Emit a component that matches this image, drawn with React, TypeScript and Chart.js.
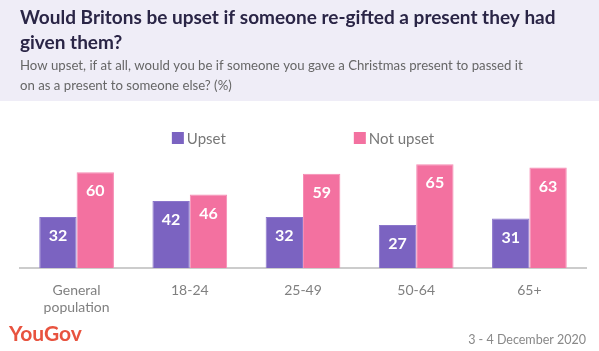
import React, { useEffect, useRef } from "react";
import { Chart, registerables } from "chart.js";

Chart.register(...registerables);

const titleLines = ["Would Britons be upset if someone re-gifted a present they had", "given them?"];
const subtitleLines = [
  "How upset, if at all, would you be if someone you gave a Christmas present to passed it",
  "on as a present to someone else? (%)",
];
const categories: (string | string[])[] = [["General", "population"], "18-24", "25-49", "50-64", "65+"];
const seriesNames = ["Upset", "Not upset"];
const upsetValues = [32, 42, 32, 27, 31];
const notUpsetValues = [60, 46, 59, 65, 63];
const sourceText = "YouGov";
const dateText = "3 - 4 December 2020";

const PURPLE = "#7b63c1";
const PINK = "#f371a0";
const FONT = "Lato, 'Open Sans', sans-serif";

const decorPlugin = {
  id: "decor",
  beforeDraw(chart: any) {
    const { ctx, width } = chart;
    ctx.save();
    ctx.fillStyle = "#efedf7";
    ctx.fillRect(0, 0, width, 101);
    ctx.restore();
  },
  afterDraw(chart: any) {
    const { ctx, chartArea } = chart;
    ctx.save();
    // legend
    ctx.font = `15px ${FONT}`;
    ctx.textBaseline = "middle";
    const ds = chart.data.datasets;
    const gap = 128;
    const box = 12;
    const widths = ds.map((d: any) => box + 3 + ctx.measureText(d.label).width);
    const total = widths.reduce((a: number, b: number) => a + b, 0) + gap * (ds.length - 1);
    let x = (chartArea.left + chartArea.right) / 2 - total / 2;
    const ly = 138;
    ds.forEach((d: any, i: number) => {
      ctx.fillStyle = d.backgroundColor;
      ctx.fillRect(x, ly - box / 2, box, box);
      ctx.fillStyle = "#777777";
      ctx.textAlign = "left";
      ctx.fillText(d.label, x + box + 3, ly + 1);
      x += widths[i] + gap;
    });
    // data labels
    ctx.font = `bold 16px ${FONT}`;
    ctx.fillStyle = "#ffffff";
    ctx.textAlign = "center";
    ds.forEach((d: any, di: number) => {
      const meta = chart.getDatasetMeta(di);
      meta.data.forEach((bar: any, i: number) => {
        ctx.fillText(String(d.data[i]), bar.x, bar.y + 19);
      });
    });
    // footer
    ctx.font = `bold 21px ${FONT}`;
    ctx.fillStyle = "#e8533f";
    ctx.textAlign = "left";
    ctx.textBaseline = "alphabetic";
    ctx.fillText(sourceText, 9, 341);
    ctx.font = `12.5px ${FONT}`;
    ctx.fillStyle = "#888888";
    ctx.textAlign = "right";
    ctx.fillText(dateText, 586, 344);
    ctx.restore();
  },
};

export default function App() {
  const ref = useRef<HTMLCanvasElement>(null);
  useEffect(() => {
    if (!ref.current) return;
    const chart = new Chart(ref.current, {
      type: "bar",
      data: {
        labels: categories,
        datasets: [
          { label: seriesNames[0], data: upsetValues, backgroundColor: PURPLE, borderColor: "#8b76cb", borderWidth: 1 },
          { label: seriesNames[1], data: notUpsetValues, backgroundColor: PINK, borderColor: "#f68cb4", borderWidth: 1 },
        ],
      },
      options: {
        animation: false,
        responsive: false,
        maintainAspectRatio: false,
        layout: { padding: { left: 20, right: 13, top: 0, bottom: 0 } },
        datasets: { bar: { categoryPercentage: 0.66, barPercentage: 1 } },
        plugins: {
          legend: { display: false },
          tooltip: { enabled: false },
          title: {
            display: true,
            text: titleLines,
            align: "start",
            color: "#2a2546",
            font: { family: FONT, size: 19, weight: "bold", lineHeight: 1.3 },
            padding: { top: 6, bottom: 0 },
          },
          subtitle: {
            display: true,
            text: subtitleLines,
            align: "start",
            color: "#666666",
            font: { family: FONT, size: 13.2, lineHeight: 1.55 },
            padding: { top: 0, bottom: 12 },
          },
        },
        scales: {
          x: {
            grid: { display: false, drawTicks: false },
            border: { display: true, color: "#cccccc", width: 2 },
            ticks: { color: "#808080", font: { family: FONT, size: 14 }, padding: 14, maxRotation: 0 },
            afterFit: (s: any) => {
              s.height = 83;
            },
          },
          y: { display: false, min: 0, max: 100 },
        },
      },
      plugins: [decorPlugin],
    });
    return () => chart.destroy();
  }, []);
  return (
    <div style={{ position: "fixed", left: 0, top: 0, width: 599, height: 351, background: "#fff" }}>
      <canvas ref={ref} width={599} height={351} style={{ display: "block" }} />
    </div>
  );
}
